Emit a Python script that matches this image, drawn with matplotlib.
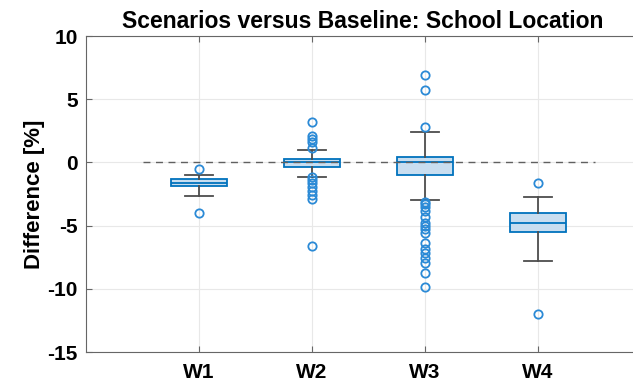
import matplotlib
matplotlib.use("Agg")
import matplotlib.pyplot as plt

plt.rcParams['font.family'] = ['Liberation Sans', 'DejaVu Sans']
plt.rcParams['font.weight'] = 'bold'
plt.rcParams['axes.unicode_minus'] = False

# box statistics
labels = ['W1', 'W2', 'W3', 'W4']
q1 = [-1.87, -0.34, -1.0, -5.53]
med = [-1.6, 0.0, 0.0, -4.77]
q3 = [-1.31, 0.27, 0.45, -4.03]
whislo = [-2.63, -1.16, -2.97, -7.8]
whishi = [-0.97, 1.0, 2.43, -2.74]
fliers_w1 = [-0.55, -4.03]
fliers_w2 = [3.17, 2.09, 1.83, 1.61, 1.14, -1.13, -1.39, -1.66, -1.92, -2.26, -2.58, -2.9, -6.59]
fliers_w3 = [6.91, 5.7, 2.78, -3.11, -3.29, -3.5, -3.85, -4.29, -4.77, -5.0, -5.27,
             -5.56, -6.35, -6.85, -7.2, -7.59, -7.94, -8.78, -9.83]
fliers_w4 = [-1.6, -11.97]
fliers = [fliers_w1, fliers_w2, fliers_w3, fliers_w4]

blue = '#0072BD'
stats = []
for i in range(len(labels)):
    stats.append(dict(label=labels[i], q1=q1[i], med=med[i], q3=q3[i],
                      whislo=whislo[i], whishi=whishi[i], fliers=fliers[i]))

fig = plt.figure(figsize=(6.33, 3.81), dpi=100)
ax = fig.add_axes([86 / 633, 29 / 381, 565 / 633, 316 / 381])

ax.bxp(stats, positions=[1, 2, 3, 4], widths=0.5, patch_artist=True,
       boxprops=dict(facecolor='#c9def0', edgecolor=blue, linewidth=1.3),
       medianprops=dict(color=blue, linewidth=1.3),
       whiskerprops=dict(color='#4d4d4d', linewidth=1.3),
       capprops=dict(color='#4d4d4d', linewidth=1.3),
       flierprops=dict(marker='o', markerfacecolor='none', markeredgecolor='#2b8ad6',
                       markersize=6, markeredgewidth=1.3))

# dashed zero reference line
ax.plot([0.5, 4.5], [0, 0], linestyle=(0, (5, 4)), color='#606060', linewidth=1, zorder=5)

ax.set_xlim(0, 5)
ax.set_ylim(-15, 10)
ax.set_yticks([-15, -10, -5, 0, 5, 10])
ax.set_xticks([1, 2, 3, 4])
ax.set_xticklabels(labels, fontsize=15, fontweight='bold')
ax.tick_params(axis='y', labelsize=15, pad=6)
ax.tick_params(axis='x', pad=8)
ax.tick_params(direction='in', length=4, color='#666666', top=True)
ax.grid(True, color='#e8e8e8', linewidth=0.8)
ax.set_axisbelow(True)
for s in ax.spines.values():
    s.set_color('#666666')
    s.set_linewidth(0.8)

ax.set_ylabel('Difference [%]', fontsize=16, fontweight='bold', labelpad=2)
ax.set_title('Scenarios versus Baseline: School Location', fontsize=16.5, fontweight='bold',
             x=(363 - 86) / 565, pad=6)

fig.savefig('out.png', dpi=100)
